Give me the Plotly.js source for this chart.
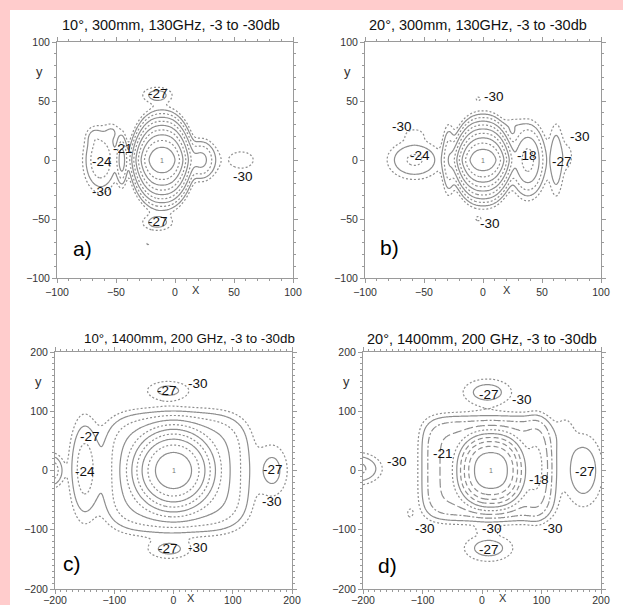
<!DOCTYPE html>
<html><head><meta charset="utf-8">
<script src="https://cdn.plot.ly/plotly-3.0.1.min.js"></script>
<style>html,body{margin:0;padding:0;background:#ffcccc;}#chart{width:623px;height:605px;}</style>
</head><body><div id="chart"></div>
<script>
// contour levels (dB)
const levels = [-3, -6, -9, -12, -15, -18, -21, -24, -27, -30];
const titles = ["10°, 300mm, 130GHz, -3 to -30db", "20°, 300mm, 130GHz, -3 to -30db",
                "10°, 1400mm, 200 GHz, -3 to -30db", "20°, 1400mm, 200 GHz, -3 to -30db"];
const panelLetters = ["a)", "b)", "c)", "d)"];
const ticksSmall = [-100, -50, 0, 50, 100];
const ticksLarge = [-200, -100, 0, 100, 200];

// beam lobes: centre, widths, peak level (dB), shape exponents
// panel a
const aX  = [-11, 22, -15, -15, -63, -45, 56, -23, -53, -69];
const aY  = [0, 0, 55, -53, 0, 0, 0, -71, 24, 20];
const aSX = [12.9, 9, 12, 12, 11, 3.5, 24, 4, 6, 6];
const aSY = [13.5, 12, 6.5, 6.5, 20, 15, 16, 4, 7, 7];
const aPk = [0, -20, -25.5, -25.5, -21.5, -19.5, -29.2, -29.8, -28, -28.5];
const aPX = [2.3, 2, 2, 2, 2, 2, 2, 2, 2, 2];
const aPY = [1.6, 2, 2, 2, 2, 2, 2, 2, 2, 2];
// panel b
const bX  = [0, 38, 62, 72, -58, -58, -29, -4, -4, 25];
const bY  = [0, 0, 0, 3, 0, 22, 0, 52, -50, 30];
const bSX = [12.9, 10, 5.5, 6, 19, 10, 4.5, 5, 5, 8];
const bSY = [11.5, 20, 27, 15, 13.5, 6, 22, 4, 4, 6];
const bPk = [0, -17, -24.5, -29, -23.5, -29, -22, -29.7, -29.7, -29];
const bPX = [2.3, 2, 2, 2, 2, 2, 2, 2, 2, 2];
const bPY = [1.5, 2, 2, 2, 2, 2, 2, 2, 2, 2];
// panel c
const cX  = [0, 5, -9, -7, -150, -205, 167];
const cY  = [0, -3, 135, -133, 3, 0, 0];
const cSX = [36, 104, 36, 36, 21, 15, 26];
const cSY = [36, 86, 16, 16, 70, 22, 44];
const cPk = [0, -19, -26, -26, -22.5, -22, -26];
const cPX = [2, 4, 2, 2, 2, 2, 2];
const cPY = [2, 4, 2, 2, 2, 2, 2];
// panel d
const dX  = [15, 10.5, 92, 9, 11, 8, -121, 170, 140, -212];
const dY  = [0, 3.5, 5, 132, -131, -100, -72, 0, 65, 3];
const dSX = [32, 103, 16, 40, 40, 18, 9, 31, 15, 35];
const dSY = [35, 80, 52, 22, 22, 8, 14, 57, 30, 22];
const dPk = [0, -20, -19, -25.5, -25.5, -29.3, -29.3, -25, -29, -23];
const dPX = [2.3, 6, 2, 2, 2, 2, 2, 2, 2, 2];
const dPY = [2.3, 5, 2, 2, 2, 2, 2, 2, 2, 2];

// contour labels
const aLabT = ["-27", "-21", "-24", "-30", "-30", "-27"];
const aLabX = [-14, -44, -62, -62, 58, -14];
const aLabY = [56, 10, -1, -27, -14, -52];
const bLabT = ["-30", "-30", "-24", "-18", "-30", "-27", "-30"];
const bLabX = [9, -69, -53, 37, 82, 67, 6];
const bLabY = [54, 28, 4, 4, 20, -1, -54];
const cLabT = ["-30", "-27", "-27", "-24", "-27", "-30", "-27", "-30"];
const cLabX = [42, -11, -141, -149, 168, 166, -9, 42];
const cLabY = [147, 135, 57, -2, 1, -53, -131, -130];
const dLabT = ["-27", "-30", "-30", "-21", "-18", "-27", "-30", "-30", "-30", "-27"];
const dLabX = [11, 67, -143, -65, 95, 173, -96, 16, 120, 11];
const dLabY = [129, 119, 16, 29, -16, -2, -98, -98, -98, -133];

// styles per level
const styleStd = ['solid', '2px,2px', 'solid', '2px,2px', 'solid', '2px,2px', 'solid', '2px,2px', 'solid', '2px,2px'];
const styleD = ['solid', '5px,3px', '5px,3px', '5px,3px', 'solid', '2px,2px', '9px,3px', '7px,2px,2px,2px', 'solid', '2px,2px'];

const W = 623, H = 605;
const boxes = [ [57, 293, 42, 278], [365, 601, 42, 278], [55, 292, 352, 589], [363, 601, 352, 589] ];
const ranges = [100, 100, 200, 200];
const xLabPos = [18, 20, 30, 36];
const centres = [[-11, 0], [0, 0], [0, 0], [15, 0]];
const titleXs = [170.5, 478, 189, 481.5];
const titleYs = [25, 25, 338, 339];
const titleSizes = [14.5, 14.5, 13.3, 14.5];

function field(xs, ys, X, Y, SX, SY, PK, PX, PY) {
  const z = [];
  for (const y of ys) {
    const row = [];
    for (const x of xs) {
      let p = 0;
      for (let i = 0; i < X.length; i++) {
        const dx = Math.abs(x - X[i]) / SX[i], dy = Math.abs(y - Y[i]) / SY[i];
        p += Math.pow(10, PK[i] / 10) * Math.exp(-(Math.pow(dx, PX[i]) + Math.pow(dy, PY[i])));
      }
      row.push(10 * Math.log10(Math.max(p, 1e-7)));
    }
    z.push(row);
  }
  return z;
}

const lobeSets = [
  [aX, aY, aSX, aSY, aPk, aPX, aPY],
  [bX, bY, bSX, bSY, bPk, bPX, bPY],
  [cX, cY, cSX, cSY, cPk, cPX, cPY],
  [dX, dY, dSX, dSY, dPk, dPX, dPY]
];
const labelSets = [[aLabT, aLabX, aLabY], [bLabT, bLabX, bLabY], [cLabT, cLabX, cLabY], [dLabT, dLabX, dLabY]];

const data = [];
const layout = {
  width: W, height: H, margin: {l: 0, r: 0, t: 0, b: 0},
  paper_bgcolor: '#ffcccc', plot_bgcolor: 'rgba(0,0,0,0)', showlegend: false,
  font: {family: 'Arial, "Liberation Sans", sans-serif', color: '#222'},
  shapes: [{type: 'rect', xref: 'paper', yref: 'paper', x0: 10 / W, x1: 1, y0: 0, y1: 1 - 10 / H,
            fillcolor: 'white', line: {width: 0}, layer: 'below'}],
  annotations: []
};

for (let k = 0; k < 4; k++) {
  const R = ranges[k];
  const step = R / 100;
  const xs = [], ys = [];
  for (let v = -R; v <= R + 1e-9; v += step) { xs.push(+v.toFixed(3)); ys.push(+v.toFixed(3)); }
  const z = field(xs, ys, ...lobeSets[k]);
  const sfx = k === 0 ? '' : String(k + 1);
  const styles = k === 3 ? styleD : styleStd;
  levels.forEach((lv, i) => {
    data.push({
      type: 'contour', x: xs, y: ys, z: z, xaxis: 'x' + sfx, yaxis: 'y' + sfx,
      showscale: false, hoverinfo: 'skip', autocontour: false,
      contours: {coloring: 'none', start: lv, end: lv, size: 1},
      line: {color: '#8e8e8e', width: 1.2, dash: styles[i], smoothing: 1}
    });
  });
  const [l, r, t, b] = boxes[k];
  const ticks = R === 100 ? ticksSmall : ticksLarge;
  const common = {
    range: [-R, R], showline: true, linecolor: '#9a9a9a', linewidth: 1, mirror: 'ticks',
    ticks: 'outside', ticklen: 4, tickcolor: '#9a9a9a', tickvals: ticks,
    tickfont: {size: 10.5, color: '#333', family: 'Arial, "Liberation Sans", sans-serif'},
    minor: {dtick: 10, ticks: 'outside', ticklen: 2, tickcolor: '#9a9a9a', showgrid: false},
    showgrid: false, zeroline: false, fixedrange: true
  };
  layout['xaxis' + sfx] = Object.assign({}, common, {domain: [l / W, r / W], anchor: 'y' + sfx,
    ticklabelstandoff: R === 200 ? -3 : 0});
  layout['yaxis' + sfx] = Object.assign({}, common, {domain: [1 - b / H, 1 - t / H], anchor: 'x' + sfx});
  layout.annotations.push({text: titles[k], xref: 'paper', yref: 'paper', x: titleXs[k] / W, y: 1 - titleYs[k] / H,
    xanchor: 'center', yanchor: 'middle', showarrow: false, font: {size: titleSizes[k], color: '#111'}});
  layout.annotations.push({text: 'X', xref: 'x' + sfx, yref: 'paper', x: xLabPos[k], y: 1 - (b + (R === 200 ? 9 : 12)) / H,
    xanchor: 'center', yanchor: 'middle', showarrow: false, font: {size: 11, color: '#333'}});
  layout.annotations.push({text: 'y', xref: 'paper', yref: 'y' + sfx, x: (l - 17) / W, y: R * 0.75,
    xanchor: 'center', yanchor: 'middle', showarrow: false, font: {size: 13, color: '#333'}});
  layout.annotations.push({text: panelLetters[k], xref: 'x' + sfx, yref: 'y' + sfx,
    x: [-78, -79, -172, -158][k], y: [-75, -74, -157, -160][k],
    xanchor: 'center', yanchor: 'middle', showarrow: false, font: {size: 21, color: '#000'}});
  layout.annotations.push({text: '1', xref: 'x' + sfx, yref: 'y' + sfx, x: centres[k][0], y: centres[k][1],
    xanchor: 'center', yanchor: 'middle', showarrow: false, font: {size: 7, color: '#777'}});
  const [LT, LX, LY] = labelSets[k];
  LT.forEach((t, i) => layout.annotations.push({text: t, xref: 'x' + sfx, yref: 'y' + sfx, x: LX[i], y: LY[i],
    xanchor: 'center', yanchor: 'middle', showarrow: false, font: {size: 13.5, color: '#111'}}));
}

Plotly.newPlot('chart', data, layout, {staticPlot: true, displayModeBar: false});
</script></body></html>
